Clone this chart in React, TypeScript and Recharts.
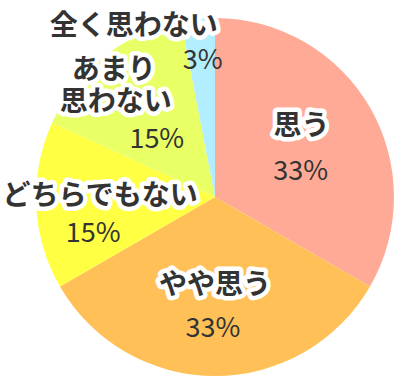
import { PieChart, Pie, Cell } from "recharts";

const names = ["思う", "やや思う", "どちらでもない", "あまり\n思わない", "全く思わない"];
const counts = [11, 11, 5, 5, 1];
const percents = ["33%", "33%", "15%", "15%", "3%"];
const colors = ["#FFAA96", "#FFC157", "#FFFF44", "#E8FF66", "#B3EEFF"];

const data = names.map((name, i) => ({ name, value: counts[i], pct: percents[i] }));

// label anchor radius + nudges for name / percent lines
const labelLayout = [
  { r: 100, name: [0, -24], pct: [-1, 21] },
  { r: 106, name: [0, -21], pct: [-2, 22] },
  { r: 118, name: [3, -10], pct: [-4, 28] },
  { r: 120, name: [-25, -36], pct: [16, 34] },
  { r: 150, name: [-67, -25], pct: [2, 10] },
];

const RAD = Math.PI / 180;
const nameStyle = {
  fontFamily: "'Noto Sans CJK JP', sans-serif",
  fontSize: 28,
  fontWeight: 700,
  fill: "#333",
  stroke: "#fff",
  strokeWidth: 9,
  strokeLinejoin: "round" as const,
  paintOrder: "stroke",
};
const pctStyle = {
  fontFamily: "'Noto Sans CJK JP', sans-serif",
  fontSize: 27,
  fontWeight: 400,
  fill: "#333",
};

function SliceLabel(props: any) {
  const { cx, cy, midAngle, index } = props;
  const lay = labelLayout[index];
  const ax = cx + lay.r * Math.cos(-midAngle * RAD);
  const ay = cy + lay.r * Math.sin(-midAngle * RAD);
  const lines = String(data[index].name).split("\n");
  const lh = 32;
  return (
    <g>
      {lines.map((l, k) => (
        <text
          key={k}
          x={ax + lay.name[0] + (k === 0 && lines.length > 1 ? -2 : 0)}
          y={ay + lay.name[1] + k * lh}
          textAnchor="middle"
          dominantBaseline="central"
          style={nameStyle}
        >
          {l}
        </text>
      ))}
      <text
        x={ax + lay.pct[0]}
        y={ay + lay.pct[1]}
        textAnchor="middle"
        dominantBaseline="central"
        style={pctStyle}
      >
        {data[index].pct}
      </text>
    </g>
  );
}

export default function App() {
  return (
    <div style={{ position: "absolute", left: 0, top: 0, width: 395, height: 377, background: "#fff" }}>
      <PieChart width={395} height={377} margin={{ top: 0, right: 0, bottom: 0, left: 0 }}>
        <Pie
          data={data}
          dataKey="value"
          cx={215}
          cy={197}
          outerRadius={179}
          startAngle={90}
          endAngle={-270}
          stroke="none"
          label={SliceLabel}
          labelLine={false}
          isAnimationActive={false}
        >
          {data.map((d, i) => (
            <Cell key={d.name} fill={colors[i]} />
          ))}
        </Pie>
      </PieChart>
    </div>
  );
}
